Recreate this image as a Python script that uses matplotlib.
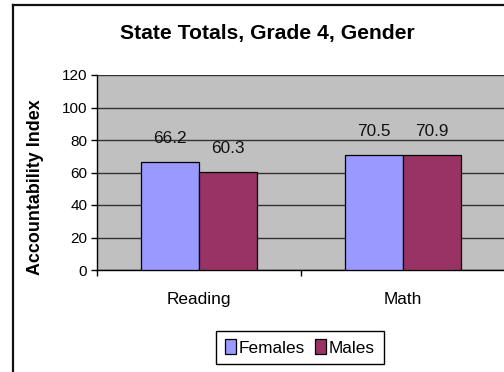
import matplotlib
matplotlib.use("Agg")
import matplotlib.pyplot as plt
from matplotlib.lines import Line2D
import numpy as np

plt.rcParams['font.family'] = ['Liberation Sans', 'DejaVu Sans']

categories = ["Reading", "Math"]
series_names = ["Females", "Males"]
females = [66.2, 70.5]
males = [60.3, 70.9]
y_ticks = [0, 20, 40, 60, 80, 100, 120]

colors = ["#9999FF", "#993366"]

W, H = 504, 372
fig = plt.figure(figsize=(W / 100, H / 100), dpi=100)
fig.patch.set_facecolor("white")

# chart-area frame (left and top edges)
fig.add_artist(Line2D([13 / W, 13 / W], [0, 1 - 5 / H], color="#111111", lw=1.6,
                      transform=fig.transFigure))
fig.add_artist(Line2D([13 / W, 1], [1 - 5 / H, 1 - 5 / H], color="#111111", lw=1.6,
                      transform=fig.transFigure))

left, right, top, bottom = 97, 505, 75, 270
ax = fig.add_axes([left / W, 1 - bottom / H, (right - left) / W, (bottom - top) / H])
ax.set_facecolor("#C0C0C0")

x = np.arange(len(categories))
bw = 0.285
bars_f = ax.bar(x - bw / 2, females, bw, color=colors[0], edgecolor="black", lw=0.9,
                label=series_names[0], zorder=3)
bars_m = ax.bar(x + bw / 2, males, bw, color=colors[1], edgecolor="black", lw=0.9,
                label=series_names[1], zorder=3)

for bars, vals in ((bars_f, females), (bars_m, males)):
    for b, v in zip(bars, vals):
        ax.annotate(f"{v:.1f}", (b.get_x() + b.get_width() / 2, v),
                    xytext=(0, 13.7), textcoords="offset points",
                    ha="center", va="baseline", fontsize=12.4, color="#111111", zorder=5)

ax.set_xlim(-0.5, 1.5)
ax.set_ylim(0, 120)
ax.set_yticks(y_ticks)
ax.set_yticklabels([str(t) for t in y_ticks], fontsize=11)
ax.yaxis.grid(True, color="#333333", lw=1.0, zorder=1)
ax.set_axisbelow(True)

ax.set_xticks([-0.5, 0.5, 1.5])
ax.set_xticklabels([])
ax.set_xticks(x, minor=True)
ax.set_xticklabels(categories, minor=True, fontsize=12.4)
ax.tick_params(axis="x", which="minor", length=0, pad=16)
ax.tick_params(axis="x", which="major", length=4, width=1, color="black", direction="out")
ax.tick_params(axis="y", length=4, width=1, color="black", direction="out", pad=3)

for side in ("top", "right"):
    ax.spines[side].set_visible(False)
ax.spines["left"].set_color("black")
ax.spines["bottom"].set_color("black")
ax.spines["left"].set_linewidth(1.0)
ax.spines["bottom"].set_linewidth(1.0)

ax.set_ylabel("Accountability Index", fontsize=12.9, fontweight="bold")
ax.yaxis.set_label_coords(44 / W, 1 - 187.5 / H, transform=fig.transFigure)

fig.text(267 / W, 1 - 33.5 / H, "State Totals, Grade 4, Gender", ha="center",
         va="center", fontsize=15.2, fontweight="bold")

leg = fig.legend(handles=[bars_f, bars_m], labels=series_names, loc="center",
                 bbox_to_anchor=(300 / W, 1 - 347.5 / H), ncol=2, fontsize=12.4,
                 frameon=True, fancybox=False, edgecolor="black", framealpha=1,
                 handlelength=0.65, handleheight=0.9, handletextpad=0.15,
                 columnspacing=0.6, borderpad=0.5, borderaxespad=0)
leg.get_frame().set_linewidth(1.0)

fig.savefig("out.png", dpi=100)
